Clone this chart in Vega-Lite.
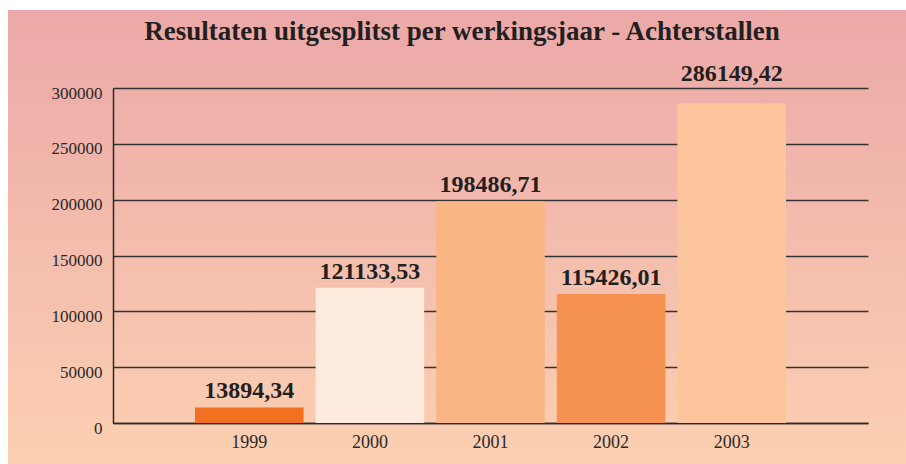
{
  "$schema": "https://vega.github.io/schema/vega-lite/v6.json",
  "width": 898,
  "height": 454,
  "autosize": {"type": "none"},
  "padding": {"left": 8, "top": 10, "right": 0, "bottom": 0},
  "background": "white",
  "title": {
    "text": "Resultaten uitgesplitst per werkingsjaar - Achterstallen",
    "font": "Liberation Serif",
    "fontSize": 27,
    "fontWeight": "bold",
    "color": "#231f20",
    "anchor": "middle",
    "frame": "group",
    "baseline": "alphabetic",
    "offset": -57,
    "dx": 5
  },
  "config": {
    "locale": {"number": {"decimal": ",", "thousands": "", "grouping": [3], "currency": ["", ""]}},
    "view": {
      "stroke": null,
      "fill": {"gradient": "linear", "x1": 0, "y1": 0, "x2": 0, "y2": 1, "stops": [{"offset": 0, "color": "#EBA8A8"}, {"offset": 1, "color": "#FCD0B2"}]}
    },
    "font": "Liberation Serif"
  },
  "data": {
    "values": [
      {"year": "1999", "value": 13894.34},
      {"year": "2000", "value": 121133.53},
      {"year": "2001", "value": 198486.71},
      {"year": "2002", "value": 115426.01},
      {"year": "2003", "value": 286149.42}
    ]
  },
  "encoding": {
    "x": {
      "field": "year",
      "type": "nominal",
      "scale": {"range": [105, 860], "paddingInner": 0.1, "paddingOuter": 0.68},
      "axis": {
        "title": null,
        "labelAngle": 0,
        "labelFont": "Liberation Serif",
        "labelFontSize": 18,
        "labelColor": "#2a2a2a",
        "labelPadding": 10,
        "ticks": false,
        "offset": -41,
        "domainColor": "#2a2a2a",
        "domainWidth": 1.5
      }
    },
    "y": {
      "field": "value",
      "type": "quantitative",
      "scale": {"domain": [0, 300000], "range": [413, 78], "nice": false},
      "axis": {
        "title": null,
        "values": [0, 50000, 100000, 150000, 200000, 250000, 300000],
        "format": "d",
        "labelFont": "Liberation Serif",
        "labelFontSize": 17,
        "labelColor": "#2a2a2a",
        "labelPadding": 11,
        "labelOffset": 5,
        "ticks": false,
        "offset": -105,
        "domainColor": "#2a2a2a",
        "domainWidth": 1.5,
        "grid": true,
        "gridColor": "#333333",
        "gridWidth": 1.4,
        "gridOpacity": 1
      }
    }
  },
  "layer": [
    {
      "mark": {"type": "bar"},
      "encoding": {
        "color": {
          "field": "year",
          "type": "nominal",
          "scale": {"domain": ["1999", "2000", "2001", "2002", "2003"], "range": ["#F37021", "#FDEBDD", "#F9B584", "#F69251", "#FDC59D"]},
          "legend": null
        }
      }
    },
    {
      "transform": [{"filter": "datum.year !== '2003'"}],
      "mark": {"type": "text", "font": "Liberation Serif", "fontSize": 24, "fontWeight": "bold", "color": "#231f20", "baseline": "alphabetic", "dy": -9},
      "encoding": {
        "text": {"field": "value", "type": "quantitative", "format": ".2f"}
      }
    },
    {
      "transform": [{"filter": "datum.year === '2003'"}],
      "mark": {"type": "text", "font": "Liberation Serif", "fontSize": 24, "fontWeight": "bold", "color": "#231f20", "baseline": "alphabetic", "dy": -22},
      "encoding": {
        "text": {"field": "value", "type": "quantitative", "format": ".2f"}
      }
    }
  ]
}
